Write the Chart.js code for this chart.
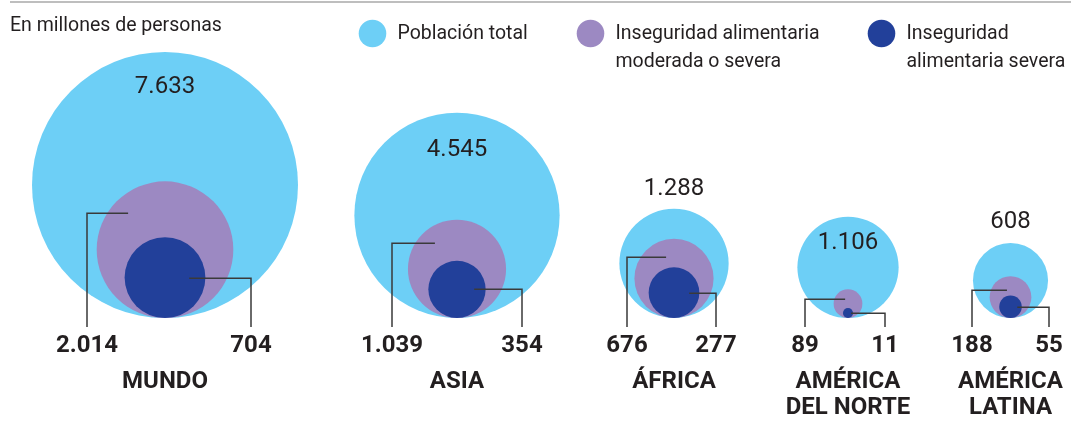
<!DOCTYPE html>
<html>
<head>
<meta charset="utf-8">
<script src="https://cdn.jsdelivr.net/npm/chart.js@4"></script>
<style>
    body { margin: 0; background: #fff; }
    #wrap { position: relative; width: 1071px; height: 423px; }
</style>
</head>
<body>
<div id="wrap"><canvas id="chart"></canvas></div>
<script>
        const regions = ['MUNDO', 'ASIA', 'ÁFRICA', ['AMÉRICA', 'DEL NORTE'], ['AMÉRICA', 'LATINA']];
        const totalPopulation = [7633, 4545, 1288, 1106, 608];
        const moderateOrSevere = [2014, 1039, 676, 89, 188];
        const severe = [704, 354, 277, 11, 55];

        // layout (pixels on the x scale, which runs 0..1071)
        const columnX = [165, 457, 674, 848, 1010.5];
        const leftLabelX = [87, 392, 627, 805, 972];
        const rightLabelX = [251, 522, 716, 885, 1049];
        const totalLabelDy = [35, 37, -20, 26, -21];
        const purpleTip = [[0.54, 0.54], [0.45, 0.53], [0.2, 0.54], [0.2, 0.32], [0.17, 0.34]];

        const colors = {
            total: '#6dcff6',
            moderate: '#9c89c2',
            severe: '#22409a',
            text: '#231f20',
            line: '#3a3a3a'
        };

        const baseline = 318;
        const radiusScale = 133 / Math.sqrt(7633);

        function radiusOf(value) {
            return radiusScale * Math.sqrt(value);
        }

        function fmt(n) {
            return String(n).replace(/\B(?=(\d{3})+(?!\d))/g, '.');
        }

        function bubbles(values) {
            return values.map((v, i) => ({ x: columnX[i], y: radiusOf(v), r: radiusOf(v) }));
        }

        const labelPlugin = {
            id: 'labels',
            afterDatasetsDraw(chart) {
                const ctx = chart.ctx;
                const xs = chart.scales.x;
                const ys = chart.scales.y;
                ctx.save();

                // top rule
                ctx.strokeStyle = '#a8a8a8';
                ctx.lineWidth = 1.5;
                ctx.beginPath();
                ctx.moveTo(10, 2);
                ctx.lineTo(1071, 2);
                ctx.stroke();

                ctx.fillStyle = colors.text;
                ctx.textBaseline = 'middle';
                ctx.textAlign = 'left';
                ctx.font = '19.5px Roboto';
                ctx.fillText('En millones de personas', 10, 26);

                // legend
                const legend = [
                    { color: colors.total, x: 372.5, lines: ['Población total'] },
                    { color: colors.moderate, x: 590.5, lines: ['Inseguridad alimentaria', 'moderada o severa'] },
                    { color: colors.severe, x: 881.5, lines: ['Inseguridad', 'alimentaria severa'] }
                ];
                legend.forEach(item => {
                    ctx.fillStyle = item.color;
                    ctx.beginPath();
                    ctx.arc(item.x, 33.5, 13.8, 0, Math.PI * 2);
                    ctx.fill();
                    ctx.fillStyle = colors.text;
                    item.lines.forEach((t, j) => ctx.fillText(t, item.x + 25, 34 + j * 28));
                });

                ctx.textAlign = 'center';
                regions.forEach((name, i) => {
                    const cx = xs.getPixelForValue(columnX[i]);
                    const lx = xs.getPixelForValue(leftLabelX[i]);
                    const rx = xs.getPixelForValue(rightLabelX[i]);
                    const rT = radiusOf(totalPopulation[i]);
                    const rM = radiusOf(moderateOrSevere[i]);
                    const rS = radiusOf(severe[i]);
                    const cyM = ys.getPixelForValue(rM);
                    const cyS = ys.getPixelForValue(rS);
                    const top = ys.getPixelForValue(2 * rT);

                    // leader lines
                    ctx.strokeStyle = colors.line;
                    ctx.lineWidth = 1.5;
                    ctx.beginPath();
                    const tipX = cx - purpleTip[i][0] * rM;
                    const tipY = Math.round(cyM - purpleTip[i][1] * rM) + 0.25;
                    ctx.moveTo(lx, 327);
                    ctx.lineTo(lx, tipY);
                    ctx.lineTo(tipX, tipY);
                    ctx.moveTo(cx + 0.6 * rS, Math.round(cyS) + 0.25);
                    ctx.lineTo(rx, Math.round(cyS) + 0.25);
                    ctx.lineTo(rx, 327);
                    ctx.stroke();

                    ctx.fillStyle = colors.text;
                    ctx.font = '24px Roboto';
                    ctx.fillText(fmt(totalPopulation[i]), cx, top + totalLabelDy[i]);

                    ctx.font = 'bold 24px Roboto';
                    ctx.fillText(fmt(moderateOrSevere[i]), lx, 346);
                    ctx.fillText(fmt(severe[i]), rx, 346);

                    const lines = Array.isArray(name) ? name : [name];
                    lines.forEach((t, j) => ctx.fillText(t, cx, 382 + j * 26));
                });

                ctx.restore();
            }
        };

        const chart = new Chart(document.getElementById('chart'), {
            type: 'bubble',
            data: {
                datasets: [
                    { label: 'Población total', data: bubbles(totalPopulation), backgroundColor: colors.total, order: 3 },
                    { label: 'Inseguridad alimentaria moderada o severa', data: bubbles(moderateOrSevere), backgroundColor: colors.moderate, order: 2 },
                    { label: 'Inseguridad alimentaria severa', data: bubbles(severe), backgroundColor: colors.severe, order: 1 }
                ]
            },
            options: {
                responsive: true,
                maintainAspectRatio: false,
                animation: false,
                events: [],
                layout: { autoPadding: false, padding: { top: 0, left: 0, right: 0, bottom: 423 - baseline } },
                elements: { point: { borderWidth: 0, hoverBorderWidth: 0 } },
                datasets: { bubble: { clip: false } },
                scales: {
                    x: { type: 'linear', min: 0, max: 1071, display: false },
                    y: { type: 'linear', min: 0, max: baseline, display: false }
                },
                plugins: {
                    legend: { display: false },
                    tooltip: { enabled: false }
                }
            },
            plugins: [labelPlugin]
        });
</script>
</body>
</html>
